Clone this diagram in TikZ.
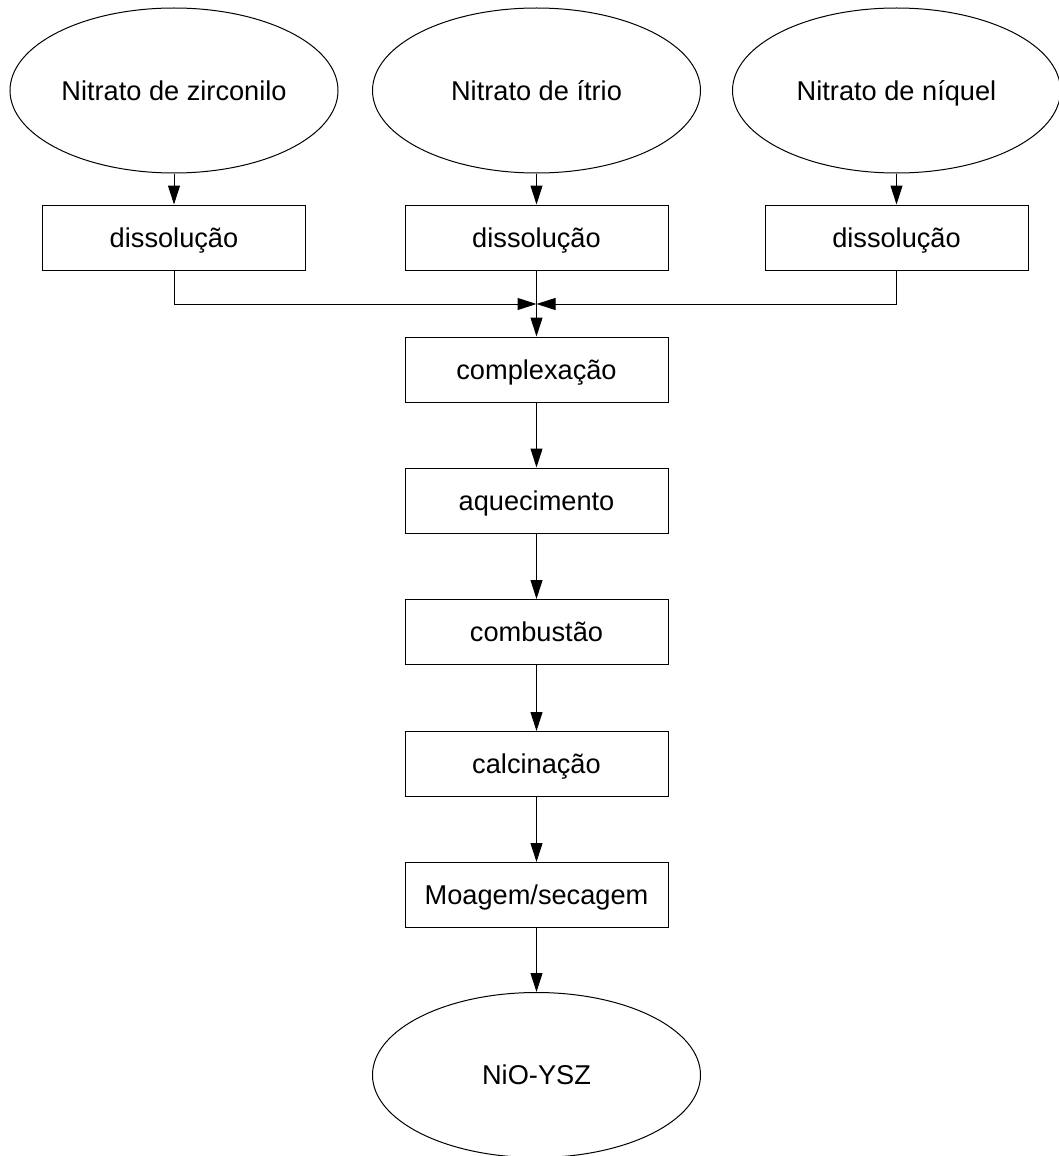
\documentclass[tikz,border=0pt]{standalone}
\usepackage{fontspec}
\setmainfont{Liberation Sans}
\usetikzlibrary{shapes.geometric,arrows.meta}
\begin{document}
\begin{tikzpicture}[x=0.5pt,y=-0.5pt,
  every node/.style={font=\fontsize{13.6}{16}\selectfont, inner sep=0pt, text height=9.6pt, text depth=0pt},
  oval/.style={ellipse, draw, line width=0.5pt, minimum width=164pt, minimum height=82.5pt},
  stepbox/.style={rectangle, draw, line width=0.5pt, minimum width=131.5pt, minimum height=32.5pt},
  arr/.style={line width=0.5pt, -{Triangle[length=9.5pt,width=6pt]}}]
\useasboundingbox (0,0) rectangle (1059,1156);
\node[oval] (e1) at (174,90.5) {Nitrato de zirconilo};
\node[oval] (e2) at (536.5,90.5) {Nitrato de ítrio};
\node[oval] (e3) at (896.5,90.5) {Nitrato de níquel};
\node[stepbox] (d1) at (174,237.5) {dissolução};
\node[stepbox] (d2) at (536.5,237.5) {dissolução};
\node[stepbox] (d3) at (896.5,237.5) {dissolução};
\coordinate (m) at (536.5,304);
\node[stepbox] (c1) at (536.5,369.5) {complexação};
\node[stepbox] (c2) at (536.5,500.5) {aquecimento};
\node[stepbox] (c3) at (536.5,632) {combustão};
\node[stepbox] (c4) at (536.5,764) {calcinação};
\node[stepbox] (c5) at (536.5,895) {Moagem/secagem};
\node[oval] (f) at (536.5,1075) {NiO-YSZ};
\draw[arr] (e1) -- (d1);
\draw[arr] (e2) -- (d2);
\draw[arr] (e3) -- (d3);
\draw[arr] (d1.south) |- (m);
\draw[arr] (d3.south) |- (m);
\draw[arr] (d2) -- (c1);
\draw[arr] (c1) -- (c2);
\draw[arr] (c2) -- (c3);
\draw[arr] (c3) -- (c4);
\draw[arr] (c4) -- (c5);
\draw[arr] (c5) -- (f);
\end{tikzpicture}
\end{document}
